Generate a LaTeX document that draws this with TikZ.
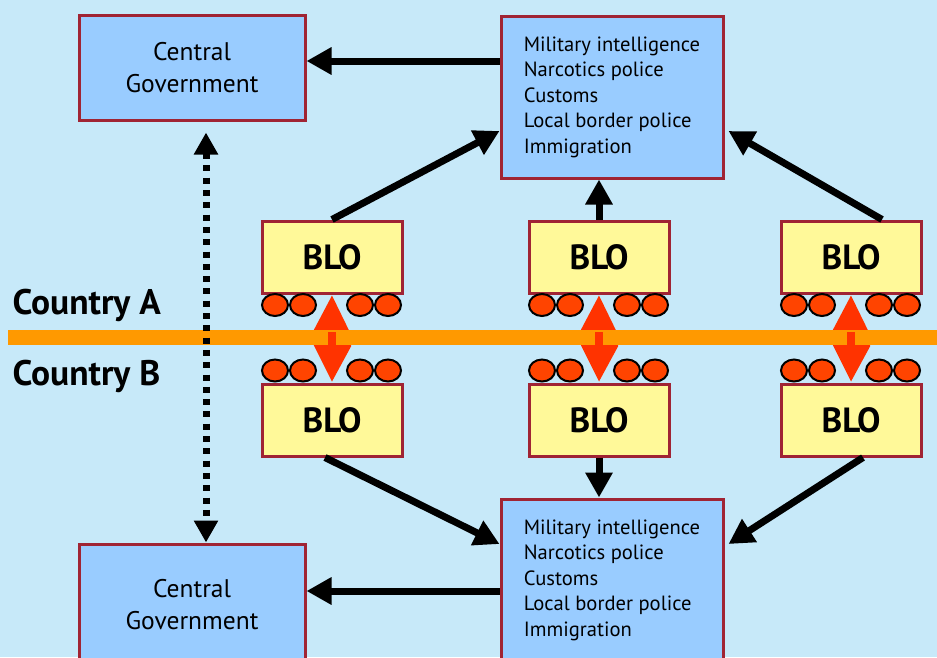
\documentclass[tikz,border=0pt]{standalone}
\usepackage{fontspec}
\setmainfont{PT Sans}
\usepackage{tikz}
\usetikzlibrary{calc,arrows.meta}
\definecolor{skybg}{RGB}{199,233,249}
\definecolor{boxblue}{RGB}{153,204,255}
\definecolor{boxframe}{RGB}{160,36,52}
\definecolor{bloyellow}{RGB}{255,249,153}
\definecolor{borderline}{RGB}{255,153,0}
\definecolor{dotred}{RGB}{255,68,0}
\definecolor{crossred}{RGB}{255,51,0}
\tikzset{
  govbox/.style={draw=boxframe,fill=boxblue,line width=3pt,minimum width=226pt,
    align=center,font=\fontsize{25.5}{32}\selectfont},
  agencybox/.style={draw=boxframe,fill=boxblue,line width=3pt,minimum width=222pt,
    minimum height=162pt,align=left,font=\fontsize{20.6}{25.5}\selectfont},
  blobox/.style={draw=boxframe,fill=bloyellow,line width=3pt,minimum width=140pt,
    minimum height=72pt,font=\fontsize{35}{35}\selectfont\bfseries},
  flow/.style={line width=7pt,-{Triangle[length=25pt,width=26pt]}},
  dotflow/.style={line width=7pt,dash pattern=on 6pt off 6.3pt,
    {Triangle[length=22pt,width=23pt]}-{Triangle[length=22pt,width=23pt]}},
  countryfont/.style={font=\fontsize{35.5}{35.5}\selectfont\bfseries,anchor=base west},
  ring/.style={fill=dotred,draw=black,line width=2pt},
}
\newcommand{\rings}[2]{%
  \foreach \dx in {-57,-29,28,56}{%
    \draw[ring] ($(#1)+(\dx,#2)$) ellipse [x radius=13pt,y radius=11pt];}%
}
\newcommand{\crossing}[2]{%
  \fill[crossred] ([yshift=-1pt]#1.south) -- ++(19,39) -- ++(0,12)
    -- ([yshift=1pt]#2.north) -- ++(-19,-38) -- ++(0,-12) -- cycle;%
}
\begin{document}
\begin{tikzpicture}[x=1pt,y=-1pt]
  \fill[skybg] (0,0) rectangle (937,657);
  \useasboundingbox (0,0) rectangle (937,657);
  \clip (0,0) rectangle (937,657);

  \node[govbox,minimum height=105pt] (govA) at (192,67.5) {Central\\Government};
  \node[govbox,minimum height=121pt] (govB) at (192,604.5) {Central\\Government};
  \node[agencybox] (agA) at (612,97) {Military intelligence\\Narcotics police\\Customs\\Local border police\\Immigration};
  \node[agencybox] (agB) at (612,580) {Military intelligence\\Narcotics police\\Customs\\Local border police\\Immigration};

  \node[blobox] (bloAl) at (332,257) {BLO};
  \node[blobox] (bloAm) at (599,257) {BLO};
  \node[blobox] (bloAr) at (851,257) {BLO};
  \node[blobox] (bloBl) at (332,420) {BLO};
  \node[blobox] (bloBm) at (599,420) {BLO};
  \node[blobox] (bloBr) at (851,420) {BLO};

  \node[countryfont] (ctyA) at (9,314) {Country A};
  \node[countryfont] (ctyB) at (9,385) {Country B};

  \crossing{bloAl}{bloBl}\crossing{bloAm}{bloBm}\crossing{bloAr}{bloBr}
  \fill[borderline] (8,330) rectangle (937,345);
  \foreach \n in {bloAl,bloAm,bloAr}{%
    \fill[crossred] ($(\n.south)+(-4,37)$) rectangle ($(\n.south)+(4,52)$);}
  \foreach \n in {bloAl,bloAm,bloAr}{\rings{\n.south}{10.5}}
  \foreach \n in {bloBl,bloBm,bloBr}{\rings{\n.north}{-12}}

  \coordinate (gA) at ($(govA.east)+(0,-6.5)$);
  \coordinate (gB) at ($(govB.east)+(0,-13.5)$);
  \draw[flow] (agA.west |- gA) -- (gA);
  \draw[flow] (agB.west |- gB) -- (gB);
  \draw[flow] (bloAl.north) -- ([yshift=-34pt]agA.west);
  \draw[flow] (bloAm.north) -- (bloAm.north |- agA.south);
  \draw[flow] ([xshift=31pt]bloAr.north) -- ([xshift=4pt,yshift=-34pt]agA.east);
  \draw[flow] ([xshift=-7pt]bloBl.south) -- ([yshift=36pt]agB.west);
  \draw[flow] (bloBm.south) -- (bloBm.south |- agB.north);
  \draw[flow] ([xshift=12pt]bloBr.south) -- ([xshift=4pt,yshift=36pt]agB.east);
  \draw[dotflow,shorten <=11pt] ([xshift=14pt]govA.south) -- ([xshift=14pt]govB.north);
\end{tikzpicture}
\end{document}
